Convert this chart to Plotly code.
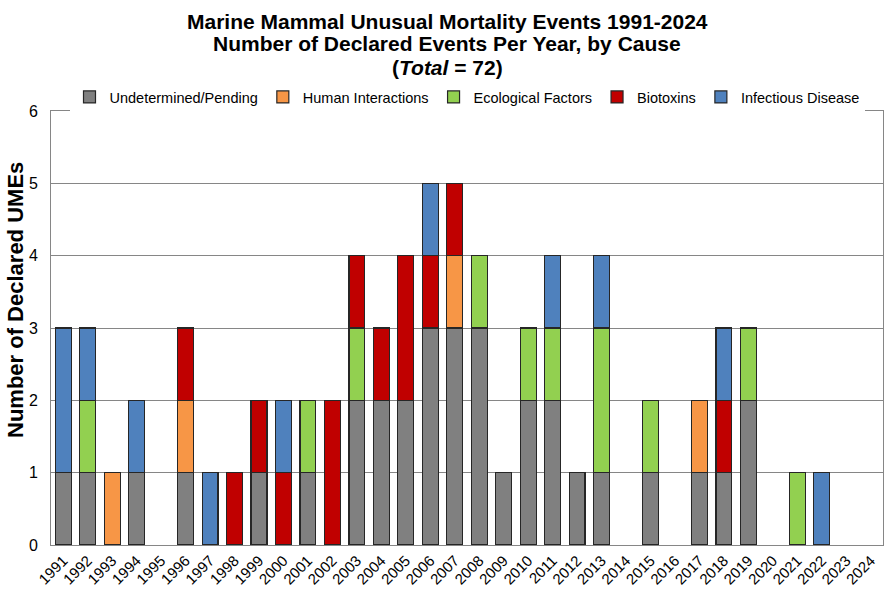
import plotly.graph_objects as go

years = [str(y) for y in range(1991, 2025)]
undetermined = [1,1,0,1,0,1,0,0,1,0,1,0,2,2,2,3,3,3,1,2,2,1,1,0,1,0,1,1,2,0,0,0,0,0]
human        = [0,0,1,0,0,1,0,0,0,0,0,0,0,0,0,0,1,0,0,0,0,0,0,0,0,0,1,0,0,0,0,0,0,0]
ecological   = [0,1,0,0,0,0,0,0,0,0,1,0,1,0,0,0,0,1,0,1,1,0,2,0,1,0,0,0,1,0,1,0,0,0]
biotoxins    = [0,0,0,0,0,1,0,1,1,1,0,2,1,1,2,1,1,0,0,0,0,0,0,0,0,0,0,1,0,0,0,0,0,0]
infectious   = [2,1,0,1,0,0,1,0,0,1,0,0,0,0,0,1,0,0,0,0,1,0,1,0,0,0,0,1,0,0,0,1,0,0]

series = [
    ("Undetermined/Pending", undetermined, "#808080"),
    ("Human Interactions", human, "#F79646"),
    ("Ecological Factors", ecological, "#92D050"),
    ("Biotoxins", biotoxins, "#C00000"),
    ("Infectious Disease", infectious, "#4F81BD"),
]

title_lines = [
    "<b>Marine Mammal Unusual Mortality Events 1991-2024</b>",
    "<b>Number of Declared Events Per Year, by Cause</b>",
    "<b>(<i>Total</i> = 72)</b>",
]
y_title = "<b>Number of Declared UMEs</b>"

fig = go.Figure()
for name, vals, col in series:
    fig.add_trace(go.Bar(
        x=years, y=[v if v else None for v in vals], name=name,
        marker=dict(color=col, line=dict(color="#262626", width=1.2)),
        width=0.65,
    ))

L, R, T, B = 51, 8, 111, 50
PLOT_W, PLOT_H = 891 - L - R, 595 - T - B

for txt, ypx in zip(title_lines, [21, 43, 67]):
    fig.add_annotation(
        text=txt, xref="paper", yref="paper", x=(447 - L) / PLOT_W, xanchor="center",
        y=1 + (T - ypx) / PLOT_H, yanchor="middle", showarrow=False,
        font=dict(size=21, color="black"),
    )

fig.add_annotation(
    text=y_title, xref="paper", yref="paper", textangle=-90,
    x=(15 - L) / PLOT_W, xanchor="center", y=1 - (300 - T) / PLOT_H, yanchor="middle",
    showarrow=False, font=dict(size=22, color="black"),
)

fig.update_layout(
    barmode="stack",
    width=891, height=595,
    paper_bgcolor="white", plot_bgcolor="white",
    font=dict(family="Liberation Sans, Arial, sans-serif", color="black", size=15),
    margin=dict(l=L, r=R, t=T, b=B),
    legend=dict(
        orientation="h", x=0.5, xanchor="center", y=1 + (T - 97) / PLOT_H, yanchor="middle",
        font=dict(size=14.5), traceorder="normal",
        itemwidth=30, tracegroupgap=0,
    ),
    xaxis=dict(
        type="category", tickangle=-45, showgrid=False, automargin=False,
        showline=True, linecolor="#868686", linewidth=1, mirror=True,
        ticks="", tickfont=dict(size=15),
    ),
    yaxis=dict(
        range=[0, 6], dtick=1, showgrid=True, gridcolor="#868686", gridwidth=1,
        showline=True, linecolor="#868686", linewidth=1, mirror=True, automargin=False,
        zeroline=False, ticks="", tickfont=dict(size=16), ticklabelstandoff=9,
    ),
    bargap=0.35,
)

fig.write_html("out.html", post_script="document.body.style.margin='0px';",
               config={"displayModeBar": False})
